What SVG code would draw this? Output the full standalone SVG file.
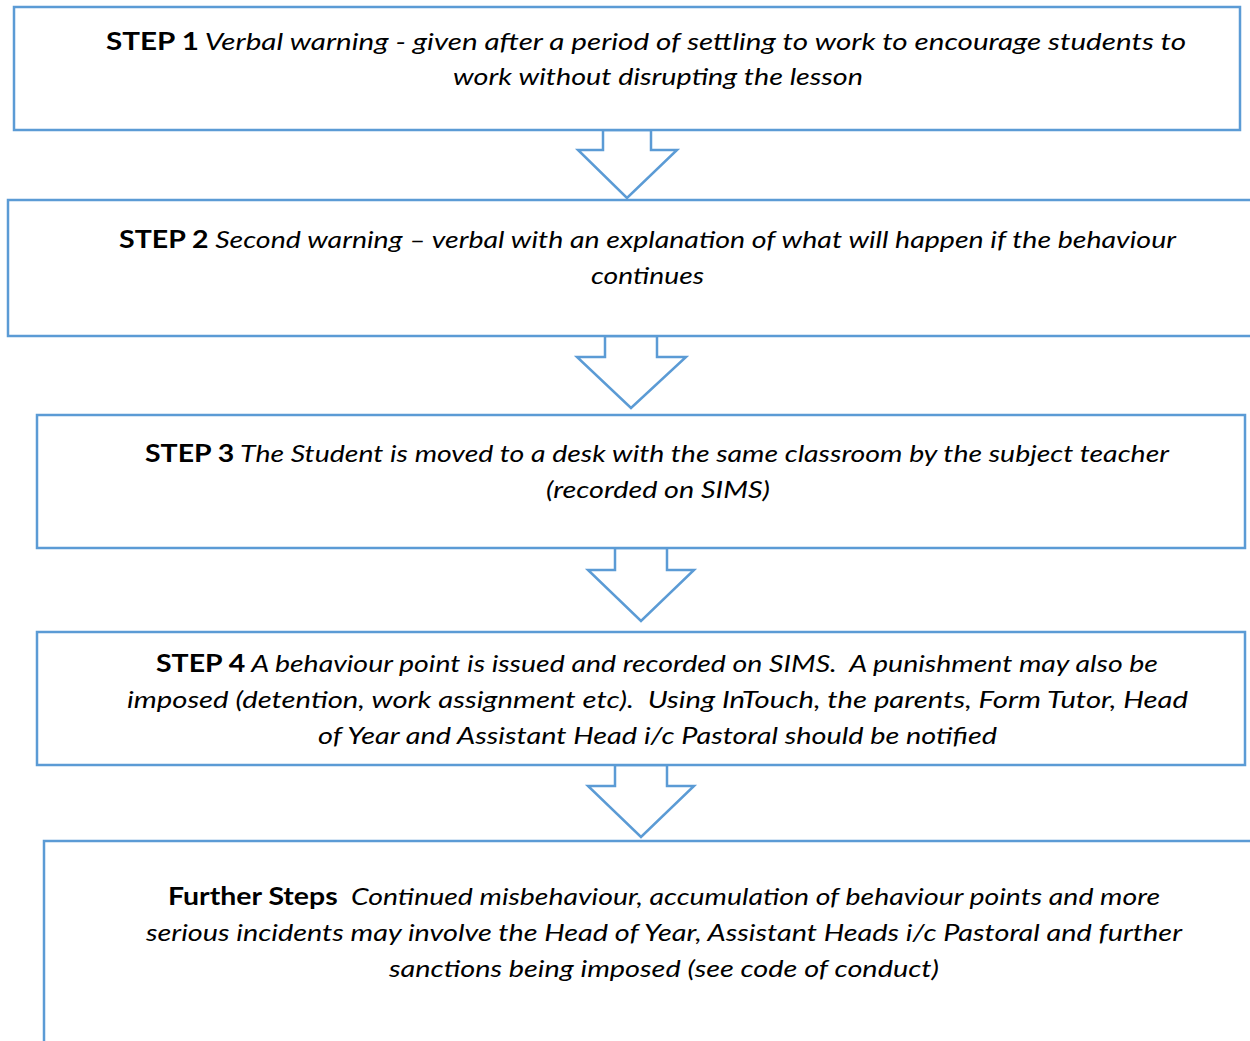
<svg xmlns="http://www.w3.org/2000/svg" width="1250" height="1041" viewBox="0 0 1250 1041">
<style>
.box{fill:#fff;stroke:#5B9BD5;stroke-width:2.5}
.arr{fill:#fff;stroke:#5B9BD5;stroke-width:2.5;stroke-linejoin:miter}
text{font-family:"Lato","Liberation Sans",sans-serif;font-size:24px;fill:#000;font-style:italic}
.b{font-weight:bold;font-style:normal}
</style>
<rect width="1250" height="1041" fill="#fff"/>
<g id="connectors">
<polygon class="arr" points="603,130 651,130 651,150 677,150 627,198 578,150 603,150"/>
<polygon class="arr" points="605,336 657,336 657,357 686,357 631,408 577,357 605,357"/>
<polygon class="arr" points="615,548 667,548 667,570 694,570 641,621 588,570 615,570"/>
<polygon class="arr" points="615,765 667,765 667,786 694,786 641,837 588,786 615,786"/>
</g>
<g id="step1">
<rect class="box" x="14" y="7" width="1226" height="123"/>
<text x="106" y="50" textLength="1080" lengthAdjust="spacingAndGlyphs" xml:space="preserve"><tspan class="b">STEP 1</tspan> Verbal warning - given after a period of settling to work to encourage students to</text>
<text x="453" y="85" textLength="410" lengthAdjust="spacingAndGlyphs">work without disrupting the lesson</text>
</g>
<g id="step2">
<rect class="box" x="8" y="200" width="1262" height="136"/>
<text x="119" y="248" textLength="1057" lengthAdjust="spacingAndGlyphs" xml:space="preserve"><tspan class="b">STEP 2</tspan> Second warning – verbal with an explanation of what will happen if the behaviour</text>
<text x="591" y="284" textLength="113" lengthAdjust="spacingAndGlyphs">continues</text>
</g>
<g id="step3">
<rect class="box" x="37" y="415" width="1208" height="133"/>
<text x="145" y="462" textLength="1024" lengthAdjust="spacingAndGlyphs" xml:space="preserve"><tspan class="b">STEP 3</tspan> The Student is moved to a desk with the same classroom by the subject teacher</text>
<text x="546" y="498" textLength="224" lengthAdjust="spacingAndGlyphs">(recorded on SIMS)</text>
</g>
<g id="step4">
<rect class="box" x="37" y="632" width="1208" height="133"/>
<text x="156" y="672" textLength="1002" lengthAdjust="spacingAndGlyphs" xml:space="preserve"><tspan class="b">STEP 4</tspan> A behaviour point is issued and recorded on SIMS.  A punishment may also be</text>
<text x="127" y="708" textLength="1061" lengthAdjust="spacingAndGlyphs" xml:space="preserve">imposed (detention, work assignment etc).  Using InTouch, the parents, Form Tutor, Head</text>
<text x="318" y="744" textLength="679" lengthAdjust="spacingAndGlyphs">of Year and Assistant Head i/c Pastoral should be notified</text>
</g>
<g id="further">
<rect class="box" x="44" y="841" width="1226" height="220"/>
<text x="168" y="905" textLength="992" lengthAdjust="spacingAndGlyphs" xml:space="preserve"><tspan class="b">Further Steps</tspan>  Continued misbehaviour, accumulation of behaviour points and more</text>
<text x="146" y="941" textLength="1036" lengthAdjust="spacingAndGlyphs">serious incidents may involve the Head of Year, Assistant Heads i/c Pastoral and further</text>
<text x="389" y="977" textLength="550" lengthAdjust="spacingAndGlyphs">sanctions being imposed (see code of conduct)</text>
</g>
</svg>
